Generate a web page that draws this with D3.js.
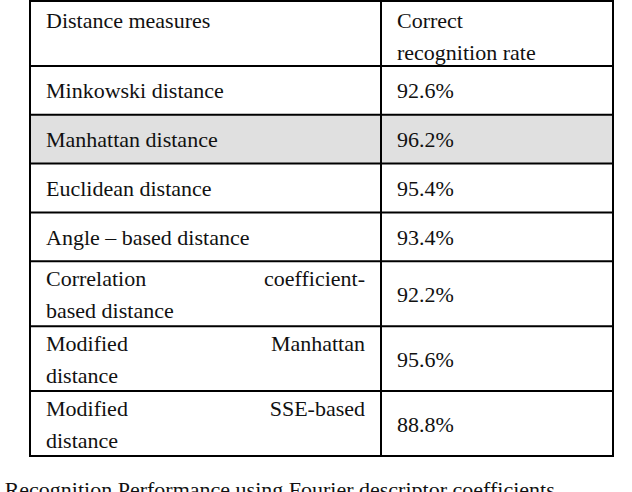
<!DOCTYPE html>
<html><head><meta charset="utf-8">
<script src="https://cdn.jsdelivr.net/npm/d3@7"></script>
<style>
body{margin:0;background:#fff}
svg text{font-family:"Liberation Serif","Times New Roman","DejaVu Serif",serif;font-size:22px;fill:#111}
</style>
</head><body>
<svg id="chart" width="632" height="492"></svg>
<script>
// table content
const header = [["Distance measures"], ["Correct", "recognition rate"]];
const measures = [
  ["Minkowski distance"],
  ["Manhattan distance"],
  ["Euclidean distance"],
  ["Angle \u2013 based distance"],
  ["Correlation coefficient-", "based distance"],
  ["Modified Manhattan", "distance"],
  ["Modified SSE-based", "distance"]
];
const rates = ["92.6%", "96.2%", "95.4%", "93.4%", "92.2%", "95.6%", "88.8%"];
const highlighted = ["Manhattan distance"];
const caption = "Table 2: Recognition Performance using Fourier descriptor  coefficients";

const svg = d3.select('#chart');

// row boundaries from cumulative row units
const rowUnits = [1.33, 1, 1, 1, 1, 1.33, 1.33, 1.33];
const edges = [0];
rowUnits.forEach(u => edges.push(edges[edges.length - 1] + u));
const y = d3.scaleLinear().domain([0, edges[edges.length - 1]]).range([1, 456]);
const x = d3.scaleLinear().domain([0, 1]).range([30, 613]);
const split = 381;

const rows = [header].concat(measures.map((m, i) => [m, [rates[i]]]));

const g = svg.append('g');

// shaded rows
g.selectAll('rect.hl').data(rows.filter(r => highlighted.includes(r[0][0])))
  .join('rect')
  .attr('x', x(0)).attr('width', x(1) - x(0))
  .attr('y', d => y(edges[rows.indexOf(d)]))
  .attr('height', d => y(edges[rows.indexOf(d) + 1]) - y(edges[rows.indexOf(d)]))
  .attr('fill', '#e0e0e0');

// cell texts
rows.forEach((r, i) => {
  const top = y(edges[i]);
  const h = y(edges[i + 1]) - top;
  r.forEach((lines, c) => {
    const left = c === 0 ? x(0) + 16 : split + 16;
    const right = c === 0 ? split - 16 : x(1) - 16;
    const n = lines.length;
    const baseTop = (i === 0) ? top + 27 : top + h / 2 + 8 - (n - 1) * 16;
    lines.forEach((line, k) => {
      const by = baseTop + k * 32;
      const words = line.split(' ');
      const justify = n > 1 && k < n - 1 && c === 0 && i > 0;
      if (!justify || words.length < 2) {
        g.append('text').attr('x', left).attr('y', by).text(line);
      } else {
        // justified line: first word at left edge, last word at right edge
        const ts = words.map(w => g.append('text').attr('y', by).text(w));
        const widths = ts.map(t => t.node().getComputedTextLength());
        const gap = (right - left - d3.sum(widths)) / (words.length - 1);
        let cx = left;
        ts.forEach((t, j) => { t.attr('x', cx); cx += widths[j] + gap; });
      }
    });
  });
});

// grid lines
g.selectAll('line.h').data(edges).join('line')
  .attr('x1', x(0) - 1).attr('x2', x(1) + 1)
  .attr('y1', d => y(d)).attr('y2', d => y(d))
  .attr('stroke', '#000').attr('stroke-width', 2);
g.selectAll('line.v').data([x(0), split, x(1)]).join('line')
  .attr('x1', d => d).attr('x2', d => d)
  .attr('y1', y(0)).attr('y2', y(edges[edges.length - 1]))
  .attr('stroke', '#000').attr('stroke-width', 2);

// caption, cut off at the bottom like the source
svg.append('text').attr('x', -72).attr('y', 497).text(caption);
</script>
</body></html>
